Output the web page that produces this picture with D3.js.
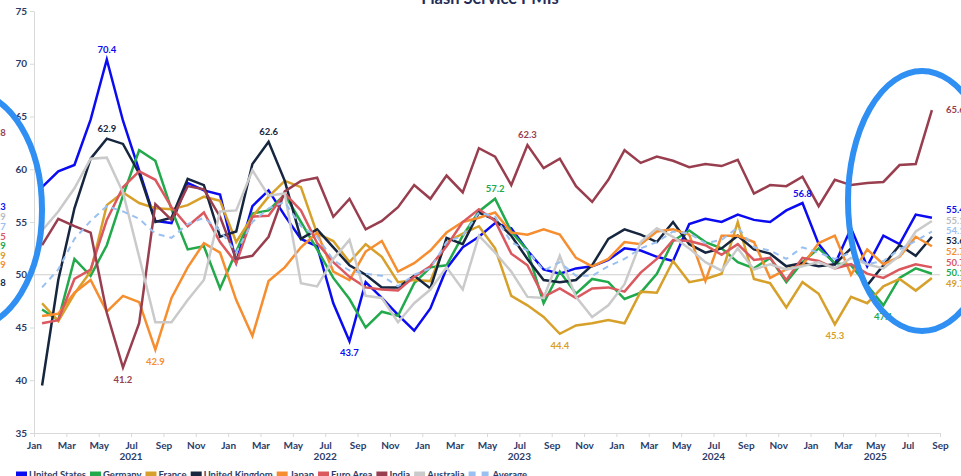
<!DOCTYPE html>
<html>
<head>
<meta charset="utf-8">
<title>Flash Service PMIs</title>
<script src="https://cdn.jsdelivr.net/npm/d3@7"></script>
<style>
    body {
        margin: 0;
        background: #fff;
        font-family: Lato, "Noto Sans", sans-serif;
    }
    svg {
        display: block;
    }
</style>
</head>
<body>
<svg id="chart" width="961" height="476"></svg>
<script>
// monthly readings, Jan 2021 .. Aug 2025
const tickMonths = ["Jan", "Mar", "May", "Jul", "Sep", "Nov"];
const years = [2021, 2022, 2023, 2024, 2025];
const yTicks = [35, 40, 45, 50, 55, 60, 65, 70, 75];

const unitedStates = [58.3, 59.8, 60.4, 64.7, 70.4, 64.6, 59.9, 55.1, 54.9, 58.7, 58.0, 57.6,
    51.2, 56.5, 58.0, 55.6, 53.4, 52.7, 47.3, 43.7, 49.3, 47.8, 46.2, 44.7,
    46.8, 50.6, 52.6, 53.6, 54.9, 54.4, 52.3, 50.5, 50.1, 50.6, 50.8, 51.4,
    52.5, 52.3, 51.7, 51.3, 54.8, 55.3, 55.0, 55.7, 55.2, 55.0, 56.1, 56.8,
    52.9, 51.0, 54.4, 50.8, 53.7, 52.9, 55.7, 55.4];
const germany = [46.7, 45.7, 51.5, 49.9, 52.8, 57.5, 61.8, 60.8, 56.2, 52.4, 52.7, 48.7,
    52.2, 55.8, 56.1, 57.6, 55.0, 52.4, 49.7, 47.7, 45.0, 46.5, 46.1, 49.2,
    50.7, 50.9, 53.7, 56.0, 57.2, 54.1, 52.3, 47.3, 50.3, 48.2, 49.6, 49.3,
    47.7, 48.3, 50.1, 53.2, 54.2, 53.1, 52.5, 51.2, 50.6, 51.6, 49.3, 51.2,
    52.5, 51.1, 50.9, 49.0, 47.1, 49.7, 50.6, 50.1];
const france = [47.3, 45.6, 48.2, 50.3, 56.6, 57.8, 56.8, 56.3, 56.2, 56.6, 57.4, 57.0,
    53.1, 55.5, 57.4, 58.9, 58.3, 53.9, 53.2, 51.2, 52.9, 51.7, 49.3, 49.5,
    49.4, 53.1, 53.9, 54.6, 52.5, 48.0, 47.1, 46.0, 44.4, 45.2, 45.4, 45.7,
    45.4, 48.4, 48.3, 51.3, 49.3, 49.6, 50.1, 55.0, 49.6, 49.2, 46.9, 49.3,
    48.2, 45.3, 47.9, 47.3, 48.9, 49.6, 48.5, 49.7];
const unitedKingdom = [39.5, 49.5, 56.3, 61.0, 62.9, 62.4, 59.6, 55.0, 55.4, 59.1, 58.5, 53.6,
    54.1, 60.5, 62.6, 58.9, 53.4, 54.3, 52.6, 50.9, 50.0, 48.8, 48.8, 49.9,
    48.7, 53.5, 52.9, 55.9, 55.2, 53.7, 51.5, 49.5, 49.3, 49.5, 50.9, 53.4,
    54.3, 53.8, 53.1, 55.0, 52.9, 52.1, 52.5, 53.7, 52.4, 52.0, 50.8, 51.1,
    50.8, 51.0, 52.5, 49.0, 50.9, 52.8, 51.8, 53.6];
const japan = [46.1, 46.3, 48.3, 49.5, 46.5, 48.0, 47.4, 42.9, 47.8, 50.7, 53.0, 52.1,
    47.6, 44.2, 49.4, 50.7, 52.6, 54.0, 50.3, 49.5, 52.2, 53.2, 50.3, 51.1,
    52.3, 54.0, 55.0, 55.4, 55.9, 54.0, 53.8, 54.3, 53.8, 51.6, 50.8, 51.5,
    53.1, 52.9, 54.1, 54.3, 53.8, 49.4, 53.7, 53.7, 53.1, 49.7, 50.5, 50.9,
    53.0, 53.7, 50.0, 52.4, 51.0, 51.7, 53.6, 52.7];
const euroArea = [45.4, 45.7, 49.6, 50.5, 55.2, 58.3, 59.8, 59.0, 56.4, 54.6, 55.9, 53.1,
    51.1, 55.5, 55.6, 57.7, 56.1, 53.0, 51.2, 49.8, 48.8, 48.6, 48.5, 49.8,
    50.8, 52.7, 55.0, 56.2, 55.1, 52.0, 50.9, 47.9, 48.7, 47.8, 48.7, 48.8,
    48.4, 50.2, 51.5, 53.3, 53.2, 52.8, 51.9, 52.9, 51.4, 51.6, 49.5, 51.6,
    51.3, 50.6, 51.0, 50.1, 49.7, 50.5, 51.0, 50.7];
const india = [52.8, 55.3, 54.6, 54.0, 46.4, 41.2, 45.4, 56.7, 55.2, 58.4, 58.1, 55.5,
    51.5, 51.8, 53.6, 57.9, 58.9, 59.2, 55.5, 57.2, 54.3, 55.1, 56.4, 58.5,
    57.2, 59.4, 57.8, 62.0, 61.2, 58.5, 62.3, 60.1, 61.0, 58.4, 56.9, 59.0,
    61.8, 60.6, 61.2, 60.8, 60.2, 60.5, 60.3, 60.9, 57.7, 58.5, 58.4, 59.3,
    56.5, 59.0, 58.5, 58.7, 58.8, 60.4, 60.5, 65.6];
const australia = [54.2, 56.0, 58.2, 61.0, 61.1, 57.8, 51.7, 45.5, 45.5, 47.6, 49.5, 56.0,
    56.1, 59.9, 57.5, 57.7, 49.2, 48.9, 51.5, 53.3, 48.0, 47.8, 45.5, 47.3,
    48.6, 50.7, 48.6, 53.7, 52.1, 50.3, 47.9, 47.8, 51.8, 47.9, 46.0, 47.1,
    49.1, 53.1, 54.4, 53.6, 52.5, 51.2, 50.4, 52.5, 50.5, 51.0, 50.5, 50.8,
    51.2, 50.6, 51.6, 51.0, 50.6, 51.8, 54.1, 55.1];
const average = [48.8, 50.5, 53.4, 55.1, 56.5, 56.0, 55.3, 53.9, 53.5, 54.8, 55.4, 54.2,
    52.1, 55.0, 56.3, 56.9, 54.6, 53.6, 51.4, 50.4, 50.1, 49.9, 48.9, 50.0,
    50.6, 53.1, 53.7, 55.9, 55.5, 53.1, 52.3, 50.4, 51.2, 49.9, 49.9, 50.8,
    51.5, 52.5, 53.1, 54.1, 53.9, 53.0, 53.3, 54.5, 52.6, 52.3, 51.5, 52.6,
    52.1, 51.5, 52.1, 51.0, 51.3, 52.4, 53.2, 54.1];

// end labels of the neighbouring panel, only their last digit shows
const cutLabels = ["63.8", "55.3", "54.9", "54.7", "53.5", "52.9", "51.9", "51.9", "48.8"];
const cutLabelY = [133, 207, 217, 227, 237, 246, 256, 265, 283];

const series = [
    { name: "United States", values: unitedStates, color: "#0b0bf2" },
    { name: "Germany", values: germany, color: "#22a94b" },
    { name: "France", values: france, color: "#d7a02a" },
    { name: "United Kingdom", values: unitedKingdom, color: "#16263f" },
    { name: "Japan", values: japan, color: "#f68e30" },
    { name: "Euro Area", values: euroArea, color: "#da585e" },
    { name: "India", values: india, color: "#983e4e" },
    { name: "Australia", values: australia, color: "#cacaca", text: "#bbbbbb" },
    { name: "Average", values: average, color: "#9ac0f1", dash: "6,5" }
];
const byName = Object.fromEntries(series.map(s => [s.name, s]));

// highlighted highs and lows
const callouts = [
    ["United States", 4, "above"], ["United Kingdom", 4, "above"], ["United Kingdom", 14, "above"],
    ["India", 5, "below"], ["Japan", 7, "below"], ["United States", 19, "below"],
    ["Germany", 28, "above"], ["India", 30, "above"], ["France", 32, "below"],
    ["United States", 47, "above"], ["France", 49, "below"], ["Germany", 52, "below"]
];

const navy = "#2c3c68";
const svg = d3.select("#chart");
const x = d3.scaleLinear().domain([0, 56]).range([34, 940]);
const y = d3.scaleLinear().domain([35, 75]).range([433, 11]);
const px = i => x(i + 0.5);

// axes
const gx = svg.append("g")
    .attr("transform", `translate(0,${y(35)})`)
    .call(d3.axisBottom(x)
        .tickValues(d3.range(0, 57, 2))
        .tickFormat(m => tickMonths[(m % 12) / 2])
        .tickSize(4).tickSizeOuter(0).tickPadding(5));
const gy = svg.append("g")
    .attr("transform", `translate(${x(0)},0)`)
    .call(d3.axisLeft(y).tickValues(yTicks).tickSize(4).tickSizeOuter(0).tickPadding(3));
[gx, gy].forEach(g => {
    g.attr("font-family", "Lato, sans-serif").attr("font-weight", 700).attr("font-size", 10);
    g.select(".domain").attr("stroke", "#d9d9d9");
    g.selectAll(".tick line").attr("stroke", "#d9d9d9");
    g.selectAll(".tick text").attr("fill", navy);
});

svg.append("g").selectAll("text")
    .data(years)
    .join("text")
    .attr("x", (yr, k) => x((k * 12 + Math.min(k * 12 + 12, 56)) / 2))
    .attr("y", 460)
    .attr("text-anchor", "middle")
    .attr("font-size", 10)
    .attr("font-weight", 700)
    .attr("fill", navy)
    .text(d => d);

svg.append("line")
    .attr("x1", x(0)).attr("x2", x(56))
    .attr("y1", y(50)).attr("y2", y(50))
    .attr("stroke", "#cfcfcf");

// lines
const line = d3.line().x((d, i) => px(i)).y(d => y(d));
svg.append("g").selectAll("path")
    .data(series)
    .join("path")
    .attr("d", s => line(s.values))
    .attr("fill", "none")
    .attr("stroke", s => s.color)
    .attr("stroke-width", s => s.dash ? 2 : 2.5)
    .attr("stroke-dasharray", s => s.dash || null);

// callouts
svg.append("g").selectAll("text")
    .data(callouts)
    .join("text")
    .attr("x", d => px(d[1]))
    .attr("y", d => y(byName[d[0]].values[d[1]]) + (d[2] === "above" ? -6.5 : 15))
    .attr("text-anchor", "middle")
    .attr("font-size", 9.5)
    .attr("font-weight", 700)
    .attr("fill", d => byName[d[0]].text || byName[d[0]].color)
    .text(d => byName[d[0]].values[d[1]].toFixed(1));

// end labels, spread so they do not overlap
function spread(items, gap) {
    items.sort((a, b) => a.y0 - b.y0);
    let groups = items.map(d => ({ members: [d], top: d.y0 }));
    let merged = true;
    while (merged) {
        merged = false;
        for (let k = 0; k < groups.length - 1; k++) {
            const g = groups[k], h = groups[k + 1];
            if (g.top + g.members.length * gap > h.top) {
                const members = g.members.concat(h.members);
                const mean = d3.mean(members, d => d.y0);
                groups.splice(k, 2, { members, top: mean - (members.length - 1) * gap / 2 });
                merged = true;
                break;
            }
        }
    }
    groups.forEach(g => g.members.forEach((d, i) => { d.y = g.top + i * gap; }));
    return items;
}
const ends = spread(series.map(s => {
    const v = s.values[s.values.length - 1];
    return { s, v, y0: y(v) };
}), 10.3);
svg.append("g").selectAll("text")
    .data(ends)
    .join("text")
    .attr("x", 946)
    .attr("y", d => d.y)
    .attr("dy", "0.35em")
    .attr("font-size", 9.5)
    .attr("font-weight", 700)
    .attr("fill", d => d.s.text || d.s.color)
    .text(d => d.v.toFixed(1));

const cutColors = ["#983e4e", "#0b0bf2", "#bbbbbb", "#9ac0f1", "#da585e", "#22a94b", "#d7a02a", "#f68e30", "#16263f"];
svg.append("g").selectAll("text")
    .data(cutLabels)
    .join("text")
    .attr("x", -13)
    .attr("y", (d, i) => cutLabelY[i])
    .attr("dy", "0.35em")
    .attr("font-size", 9.5)
    .attr("font-weight", 700)
    .attr("fill", (d, i) => cutColors[i])
    .text(d => d);

// legend
const legend = svg.append("g").attr("font-size", 9.5).attr("font-weight", 700);
let lx = 16;
series.forEach(s => {
    const w = s.dash ? 22 : 11;
    legend.append("line")
        .attr("x1", lx).attr("x2", lx + w)
        .attr("y1", 474).attr("y2", 474)
        .attr("stroke", s.color)
        .attr("stroke-width", 5)
        .attr("stroke-dasharray", s.dash ? "7,6" : null);
    const t = legend.append("text")
        .attr("x", lx + w + 2)
        .attr("y", 477.5)
        .attr("fill", navy)
        .text(s.name);
    lx += w + 2 + t.node().getComputedTextLength() + 4;
});

// title, mostly above the frame
svg.append("text")
    .attr("x", 490)
    .attr("y", 4)
    .attr("text-anchor", "middle")
    .attr("font-size", 16.5)
    .attr("font-weight", 700)
    .attr("fill", "#1f2d58")
    .text("Flash Service PMIs");

// hand-drawn highlight rings
svg.append("ellipse")
    .attr("cx", -30).attr("cy", 210).attr("rx", 72).attr("ry", 118)
    .attr("fill", "none").attr("stroke", "#2f8ff2").attr("stroke-width", 6);
svg.append("ellipse")
    .attr("cx", 922).attr("cy", 201).attr("rx", 74).attr("ry", 130)
    .attr("fill", "none").attr("stroke", "#2f8ff2").attr("stroke-width", 6);
</script>
</body>
</html>
